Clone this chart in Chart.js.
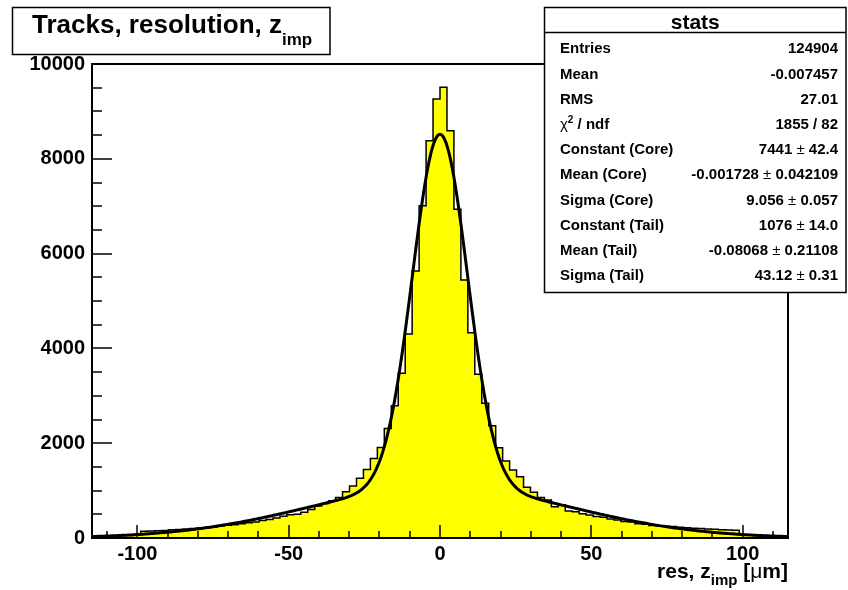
<!DOCTYPE html>
<html>
<head>
<meta charset="utf-8">
<script src="https://cdn.jsdelivr.net/npm/chart.js@4.4.0/dist/chart.umd.min.js"></script>
<style>
  body { margin: 0; background: #fff; }
</style>
</head>
<body>
<canvas id="hist" width="848" height="590"></canvas>
<script>
// histogram binning: 100 bins from -115 to 115 um
const xMin = -115;
const xMax = 115;
const binWidth = 2.3;

// bin contents (left to right)
const binCounts = [
  25, 30, 35, 40, 45, 55, 60, 145, 150, 155,
  160, 175, 180, 190, 200, 210, 215, 230, 255, 270,
  280, 300, 320, 340, 370, 390, 420, 460, 490, 500,
  545, 600, 675, 730, 785, 855, 975, 1097, 1260, 1445,
  1675, 1910, 2310, 2790, 3474, 4304, 5633, 7011, 8382, 9262,
  9508, 8593, 6934, 5443, 4332, 3453, 2841, 2370, 1906, 1624,
  1435, 1294, 1070, 964, 855, 800, 661, 700, 570, 555,
  510, 485, 455, 440, 400, 380, 350, 340, 300, 290,
  265, 255, 250, 240, 225, 215, 205, 200, 190, 185,
  175, 170, 165, 65, 60, 55, 50, 45, 40, 35
];

// double gaussian fit (core, tail) as printed in the stats box
const fitConstant = [7441, 1076];
const fitMean = [-0.001728, -0.08068];
const fitSigma = [9.056, 43.12];

// tick labels
const xTickValues = [-100, -50, 0, 50, 100];
const yTickValues = [0, 2000, 4000, 6000, 8000, 10000];

// stats box
const statLabels = ["Entries", "Mean", "RMS", "χ² / ndf", "Constant (Core)", "Mean (Core)",
  "Sigma (Core)", "Constant (Tail)", "Mean (Tail)", "Sigma (Tail)"];
const statValues = ["124904", "-0.007457", "27.01", "1855 / 82", "7441 ± 42.4",
  "-0.001728 ± 0.042109", "9.056 ± 0.057", "1076 ± 14.0", "-0.08068 ± 0.21108", "43.12 ± 0.31"];

const FONT = '"Liberation Sans", Arial, Helvetica, sans-serif';
const bold = (s) => "bold " + s + "px " + FONT;
const normal = (s) => s + "px " + FONT;

// histogram as a stepped line, one point per lower bin edge
const histPoints = binCounts.map((c, i) => ({ x: xMin + i * binWidth, y: c }));
histPoints.push({ x: xMax, y: binCounts[binCounts.length - 1] });

function fitFunc(x) {
  let s = 0;
  for (let k = 0; k < fitConstant.length; k++) {
    const u = (x - fitMean[k]) / fitSigma[k];
    s += fitConstant[k] * Math.exp(-0.5 * u * u);
  }
  return s;
}
const fitPoints = [];
for (let k = 0; k <= 460; k++) {
  const x = xMin + k * 0.5;
  fitPoints.push({ x: x, y: fitFunc(x) });
}

// draw a row of text pieces with their own fonts
function drawRuns(ctx, runs, x, y, align) {
  let total = 0;
  runs.forEach(r => { ctx.font = r.font; r.w = ctx.measureText(r.text).width; total += r.w; });
  let cx = align === "right" ? x - total : align === "center" ? x - total / 2 : x;
  runs.forEach(r => {
    ctx.font = r.font;
    ctx.fillText(r.text, cx, y + (r.dy || 0));
    cx += r.w;
  });
}

// frame with inward ticks, ROOT style
const rootFrame = {
  id: "rootFrame",
  afterDatasetsDraw(chart) {
    const { ctx, chartArea: a, scales: { x, y } } = chart;
    ctx.save();
    ctx.strokeStyle = "#000";
    ctx.lineWidth = 1.5;
    for (let v = 0; v <= 10000; v += 500) {
      const py = Math.round(y.getPixelForValue(v));
      const len = v % 2000 === 0 ? 20 : 10;
      ctx.beginPath(); ctx.moveTo(a.left, py); ctx.lineTo(a.left + len, py); ctx.stroke();
    }
    for (let v = -110; v <= 110; v += 10) {
      const px = Math.round(x.getPixelForValue(v));
      const len = v % 50 === 0 ? 13 : 7;
      ctx.beginPath(); ctx.moveTo(px, a.bottom); ctx.lineTo(px, a.bottom - len); ctx.stroke();
    }
    ctx.lineWidth = 2;
    ctx.strokeRect(a.left, a.top, a.right - a.left, a.bottom - a.top);
    ctx.restore();
  },
  afterDraw(chart) {
    const ctx = chart.ctx;
    ctx.save();
    ctx.fillStyle = "#000";
    ctx.textBaseline = "alphabetic";
    ctx.textAlign = "left";

    // x axis title
    drawRuns(ctx, [
      { text: "res, z", font: bold(21) },
      { text: "imp", font: bold(15), dy: 7 },
      { text: " [", font: bold(21) },
      { text: "μ", font: normal(21) },
      { text: "m]", font: bold(21) }
    ], 788, 578, "right");

    // title box
    ctx.fillStyle = "#fff";
    ctx.fillRect(12.5, 7.5, 317.5, 47);
    ctx.strokeStyle = "#000";
    ctx.lineWidth = 1.5;
    ctx.strokeRect(12.5, 7.5, 317.5, 47);
    ctx.fillStyle = "#000";
    drawRuns(ctx, [
      { text: "Tracks, resolution, z", font: bold(26) },
      { text: "imp", font: bold(17), dy: 12 }
    ], 32, 33, "left");

    // stats box
    const bx = 544.5, bw = 301.5, by = 7.5, bh = 285;
    ctx.fillStyle = "#fff";
    ctx.fillRect(bx, by, bw, bh);
    ctx.strokeRect(bx, by, bw, bh);
    ctx.beginPath(); ctx.moveTo(bx, 32.5); ctx.lineTo(bx + bw, 32.5); ctx.stroke();
    ctx.fillStyle = "#000";
    drawRuns(ctx, [{ text: "stats", font: bold(21) }], bx + bw / 2, 29, "center");

    statLabels.forEach((label, i) => {
      const yb = 53.3 + i * 25.2;
      let runs;
      if (label.startsWith("χ")) {
        runs = [
          { text: "χ", font: normal(15) },
          { text: "2", font: bold(10), dy: -6 },
          { text: label.slice(2), font: bold(15) }
        ];
      } else {
        runs = [{ text: label, font: bold(15) }];
      }
      drawRuns(ctx, runs, 560, yb, "left");

      const parts = statValues[i].split("±");
      const vr = [{ text: parts[0], font: bold(15) }];
      if (parts.length > 1) {
        vr.push({ text: "±", font: normal(15) });
        vr.push({ text: parts[1], font: bold(15) });
      }
      drawRuns(ctx, vr, 838, yb, "right");
    });
    ctx.restore();
  }
};

new Chart(document.getElementById("hist"), {
  type: "line",
  data: {
    datasets: [
      {
        label: "fit",
        data: fitPoints,
        borderColor: "#000",
        borderWidth: 3,
        pointRadius: 0,
        fill: false,
        tension: 0,
        order: 0
      },
      {
        label: "res z_imp",
        data: histPoints,
        stepped: "before",
        borderColor: "#000",
        borderWidth: 1.5,
        backgroundColor: "#ffff00",
        fill: "origin",
        pointRadius: 0,
        order: 1
      }
    ]
  },
  options: {
    responsive: false,
    animation: false,
    devicePixelRatio: 1,
    layout: { padding: { left: 0, top: 64, right: 60, bottom: 0 } },
    plugins: {
      legend: { display: false },
      tooltip: { enabled: false },
      title: { display: false }
    },
    scales: {
      x: {
        type: "linear",
        min: xMin,
        max: xMax,
        grid: { display: false, drawTicks: false },
        border: { display: false },
        afterBuildTicks: (s) => { s.ticks = xTickValues.map(v => ({ value: v })); },
        afterFit: (s) => { s.height = 52; },
        ticks: {
          color: "#000",
          font: { family: FONT, size: 20, weight: "bold" },
          padding: 4,
          maxRotation: 0,
          autoSkip: false,
          callback: (v) => String(v)
        }
      },
      y: {
        type: "linear",
        min: 0,
        max: 10000,
        grid: { display: false, drawTicks: false },
        border: { display: false },
        afterBuildTicks: (s) => { s.ticks = yTickValues.map(v => ({ value: v })); },
        afterFit: (s) => { s.width = 92; },
        ticks: {
          color: "#000",
          font: { family: FONT, size: 20, weight: "bold" },
          padding: 7,
          autoSkip: false,
          callback: (v) => String(v)
        }
      }
    }
  },
  plugins: [rootFrame]
});
</script>
</body>
</html>
